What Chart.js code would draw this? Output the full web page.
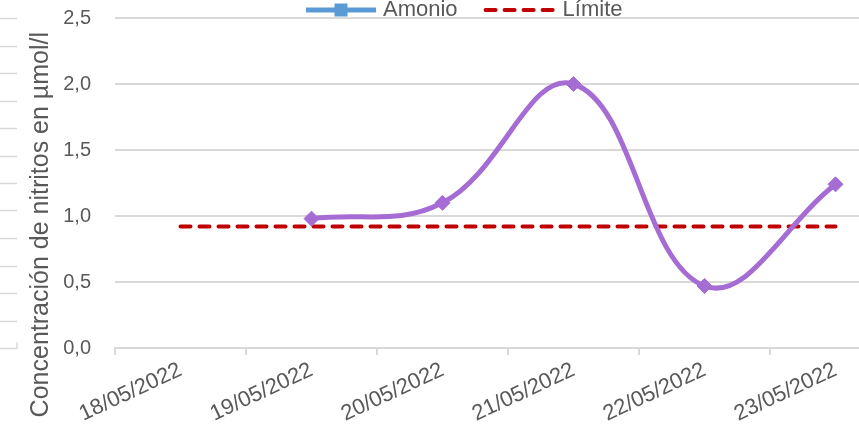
<!DOCTYPE html>
<html>
<head>
<meta charset="utf-8">
<script src="https://cdn.jsdelivr.net/npm/chart.js@4/dist/chart.umd.min.js"></script>
<style>
html, body { margin: 0; padding: 0; overflow: hidden; background: #fff; }
</style>
</head>
<body>
<canvas id="grafico" width="926" height="435"></canvas>
<script>
// datos
var fechas = ["18/05/2022", "19/05/2022", "20/05/2022", "21/05/2022", "22/05/2022", "23/05/2022"];
var amonio = [null, 0.98, 1.10, 2.00, 0.47, 1.24];
var limite = [0.92, 0.92, 0.92, 0.92, 0.92, 0.92];
var tituloY = "Concentración de nitritos en µmol/l";

var gris = "#595959";
var fuente = "'Liberation Sans', Arial, sans-serif";

function coma(v) {
    return Number(v).toFixed(1).replace(".", ",");
}

// leyenda dibujada a mano (estilo Excel: linea larga con marcador)
var leyenda = {
    id: "leyenda",
    afterDraw: function(chart) {
        var ctx = chart.ctx;
        var items = [
            {text: "Amonio", color: "#5b9bd5", width: 5, dash: [], marker: true},
            {text: "Límite", color: "#c00000", width: 4, dash: [10, 9], marker: false}
        ];
        var box = 72, gap = 6, sep = 27;
        ctx.save();
        ctx.font = "22px " + fuente;
        var x = 305;
        var y = 10;
        for (var j = 0; j < items.length; j++) {
            var it = items[j];
            it.tw = ctx.measureText(it.text).width;
            ctx.strokeStyle = it.color;
            ctx.lineWidth = it.width;
            ctx.lineCap = it.dash.length ? "round" : "butt";
            ctx.setLineDash(it.dash);
            ctx.beginPath();
            ctx.moveTo(x + 1, y);
            ctx.lineTo(x + box - 1, y);
            ctx.stroke();
            ctx.setLineDash([]);
            if (it.marker) {
                ctx.fillStyle = it.color;
                ctx.fillRect(x + box / 2 - 6.5, y - 6.5, 13, 13);
            }
            ctx.fillStyle = gris;
            ctx.textBaseline = "middle";
            ctx.textAlign = "left";
            ctx.fillText(it.text, x + box + gap, y);
            x += box + gap + it.tw + sep;
        }
        ctx.restore();
    }
};

// restos de rejilla del grafico vecino, en el borde izquierdo
var bordeIzq = {
    id: "bordeIzq",
    beforeDraw: function(chart) {
        var ctx = chart.ctx;
        var y = chart.scales.y;
        ctx.save();
        ctx.strokeStyle = "#d9d9d9";
        ctx.lineWidth = 1.5;
        for (var k = 0; k <= 12; k++) {
            var py = Math.round(y.getPixelForValue(k * 2.5 / 12)) + 0.5;
            ctx.beginPath();
            ctx.moveTo(0, py);
            ctx.lineTo(17, py);
            ctx.stroke();
        }
        var p0 = Math.round(y.getPixelForValue(0)) + 0.5;
        ctx.beginPath();
        ctx.moveTo(17, p0);
        ctx.lineTo(17, p0 - 6);
        ctx.stroke();
        ctx.restore();
    }
};

var ctx = document.getElementById("grafico").getContext("2d");
var grafico = new Chart(ctx, {
    type: "line",
    data: {
        labels: fechas,
        datasets: [{
            label: "Amonio",
            data: amonio,
            borderColor: "#a56cd3",
            backgroundColor: "#a56cd3",
            borderWidth: 5,
            pointStyle: "rectRot",
            pointRadius: 7.5,
            pointBorderWidth: 1,
            tension: 0.4,
            spanGaps: false
        }, {
            label: "Límite",
            data: limite,
            borderColor: "#c00000",
            borderWidth: 4,
            borderDash: [10, 9],
            borderCapStyle: "round",
            pointRadius: 0,
            tension: 0
        }]
    },
    options: {
        responsive: false,
        animation: false,
        layout: {
            padding: {left: 0, right: 25, top: 18, bottom: 0}
        },
        plugins: {
            legend: {display: false},
            tooltip: {enabled: false}
        },
        scales: {
            x: {
                offset: true,
                grid: {
                    offset: true,
                    drawOnChartArea: false,
                    drawTicks: true,
                    tickLength: 7,
                    color: "#d9d9d9",
                    lineWidth: 2
                },
                border: {color: "#d9d9d9", width: 2},
                ticks: {
                    color: gris,
                    font: {family: fuente, size: 22},
                    minRotation: 25,
                    maxRotation: 25,
                    padding: 2
                },
                afterFit: function(scale) { scale.height = 87; }
            },
            y: {
                min: 0,
                max: 2.5,
                grid: {
                    drawTicks: true,
                    tickLength: 24,
                    tickColor: "rgba(0,0,0,0)",
                    color: "#d9d9d9",
                    lineWidth: 2
                },
                border: {display: false},
                ticks: {
                    stepSize: 0.5,
                    color: gris,
                    padding: 0,
                    font: {family: fuente, size: 20},
                    callback: function(v) { return coma(v); }
                },
                title: {
                    display: true,
                    // espacios al final para bajar el titulo como en Excel
                    text: tituloY + "            ",
                    color: gris,
                    font: {family: fuente, size: 25},
                    padding: {top: 26, bottom: 0}
                },
                afterFit: function(scale) { scale.width = 115; }
            }
        }
    },
    plugins: [leyenda, bordeIzq]
});
</script>
</body>
</html>
